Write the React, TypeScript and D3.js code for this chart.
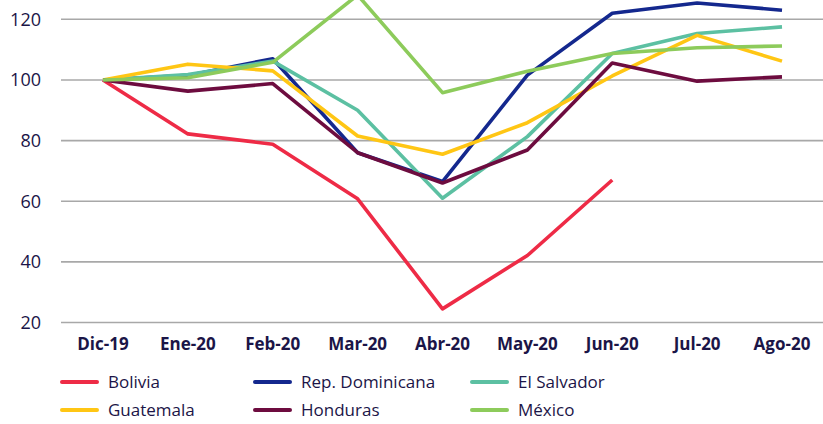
import React from "react";
import * as d3 from "d3";

const categories = ["Dic-19", "Ene-20", "Feb-20", "Mar-20", "Abr-20", "May-20", "Jun-20", "Jul-20", "Ago-20"];
const yTicks = [20, 40, 60, 80, 100, 120];

const bolivia = [100, 82.2, 78.8, 60.8, 24.5, 42.1, 67.0, null, null];
const repDominicana = [100, 101.5, 107, 76, 66.5, 101.6, 122, 125.4, 123];
const elSalvador = [100, 101.8, 106.2, 90, 61, 81.3, 108.7, 115.3, 117.5];
const guatemala = [100, 105.2, 103, 81.5, 75.5, 85.9, 101.3, 114.7, 106.2];
const honduras = [100, 96.3, 98.8, 76, 66, 76.9, 105.6, 99.6, 101];
const mexico = [100, 100.7, 105.8, 128, 95.8, 102.9, 108.7, 110.6, 111.2];

const seriesNames = ["Bolivia", "Rep. Dominicana", "El Salvador", "Guatemala", "Honduras", "México"];
const seriesValues = [bolivia, repDominicana, elSalvador, guatemala, honduras, mexico];
const seriesColors = ["#EE2B46", "#14288E", "#5CC0A2", "#FFC614", "#6D0C3F", "#8DCB5B"];

const W = 823;
const H = 424;
const TEXT = "#1B1547";
const FONT = "'Open Sans', 'Noto Sans', sans-serif";

export default function App() {
  const x = d3.scalePoint<string>().domain(categories).range([103, 782]);
  const y = d3.scaleLinear().domain([20, 120]).range([322.5, 19.3]);
  const line = d3
    .line<number | null>()
    .defined((d) => d !== null)
    .x((_, i) => x(categories[i]) as number)
    .y((d) => y(d as number));

  const legendCols = [62, 255, 472];
  const legendRows = [382, 410];

  return (
    <svg width={W} height={H} style={{ position: "absolute", left: 0, top: 0, display: "block" }}>
      <rect width={W} height={H} fill="#fff" />
      {yTicks.map((t) => (
        <g key={t}>
          <line x1={61} x2={W} y1={y(t)} y2={y(t)} stroke="#A8A8A8" strokeWidth={1.6} />
          <text x={41} y={y(t)} dy="0.35em" textAnchor="end" fontFamily={FONT} fontSize={18} fill={TEXT}>
            {t}
          </text>
        </g>
      ))}
      {seriesValues.map((vals, i) => (
        <path
          key={seriesNames[i]}
          d={line(vals) || ""}
          fill="none"
          stroke={seriesColors[i]}
          strokeWidth={3.6}
          strokeLinejoin="round"
        />
      ))}
      {categories.map((c) => (
        <text key={c} x={x(c)} y={350} textAnchor="middle" fontFamily={FONT} fontWeight="bold" fontSize={17} fill={TEXT}>
          {c}
        </text>
      ))}
      {seriesNames.map((name, i) => {
        const col = i % 3;
        const row = Math.floor(i / 3);
        const lx = legendCols[col];
        const ly = legendRows[row];
        return (
          <g key={name}>
            <line x1={lx} x2={lx + 35} y1={ly} y2={ly} stroke={seriesColors[i]} strokeWidth={4} strokeLinecap="round" />
            <text x={lx + 46} y={ly} dy="0.35em" fontFamily={FONT} fontSize={17} fill={TEXT}>
              {name}
            </text>
          </g>
        );
      })}
    </svg>
  );
}
